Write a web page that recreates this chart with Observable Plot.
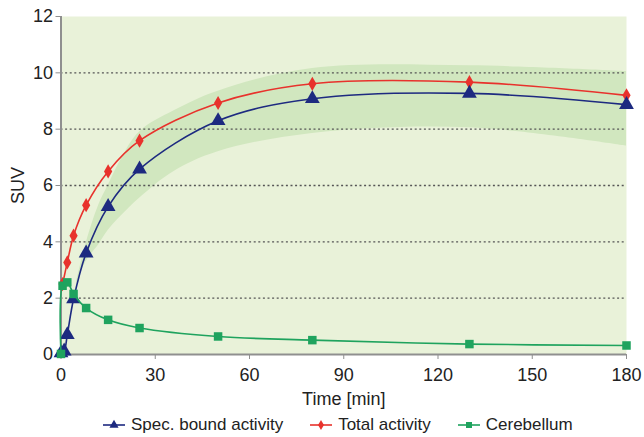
<!DOCTYPE html>
<html>
<head>
<meta charset="utf-8">
<script src="https://cdn.jsdelivr.net/npm/d3@7"></script>
<script src="https://cdn.jsdelivr.net/npm/@observablehq/plot@0.6"></script>
<style>
  body { margin: 0; background: #fff; font-family: "Liberation Sans", Arial, sans-serif; }
  #chart svg { display: block; }
  #legend { display: flex; justify-content: flex-start; align-items: center; height: 30px; font-size: 17px; color: #222; padding-left: 102px; }
  .item { display: flex; align-items: center; margin-right: 26px; }
  .item svg { margin-right: 5px; }
</style>
</head>
<body>
<div id="chart"></div>
<div id="legend"></div>
<script>
// --- data ---
const timeSpec  = [0, 1, 2, 4, 8, 15, 25, 50, 80, 130, 180];
const specBound = [0.05, 0.12, 0.7, 1.97, 3.6, 5.25, 6.58, 8.3, 9.08, 9.27, 8.87];

const timeTotal = [0.5, 2, 4, 8, 15, 25, 50, 80, 130, 180];
const total     = [2.5, 3.27, 4.22, 5.3, 6.5, 7.59, 8.93, 9.61, 9.67, 9.2];

const timeCereb = [0, 0.5, 2, 4, 8, 15, 25, 50, 80, 130, 180];
const cereb     = [0.02, 2.44, 2.56, 2.15, 1.65, 1.23, 0.94, 0.64, 0.51, 0.37, 0.32];

const bandTime  = [5, 8, 12, 15, 19, 25, 36, 50, 80, 130, 180];
const bandUpper = [2.6, 3.95, 5.3, 6.0, 6.9, 7.9, 8.65, 9.35, 10.15, 10.25, 10.05];
const bandLower = [2.5, 3.3, 3.9, 4.4, 4.9, 5.55, 6.5, 7.2, 7.85, 8.05, 7.4];

const xTicks = [0, 30, 60, 90, 120, 150, 180];
const yTicks = [0, 2, 4, 6, 8, 10, 12];
const gridLevels = [2, 4, 6, 8, 10];

const seriesNames = ["Spec. bound activity", "Total activity", "Cerebellum"];
const seriesColors = ["#1d2a80", "#e8322c", "#1fa35e"];
const seriesSymbols = ["triangle", "diamond", "square"];

// --- tables built from arrays ---
const spec = timeSpec.map((t, i) => ({t, v: specBound[i]}));
const tot = timeTotal.map((t, i) => ({t, v: total[i]}));
const cer = timeCereb.map((t, i) => ({t, v: cereb[i]}));
const band = bandTime.map((t, i) => ({t, lo: bandLower[i], hi: bandUpper[i]}));

const font = "'Liberation Sans', Arial, sans-serif";

const chart = Plot.plot({
  width: 644,
  height: 410,
  marginLeft: 60.5,
  marginRight: 18,
  marginTop: 16,
  marginBottom: 56,
  style: {fontFamily: font, fontSize: "17px", color: "#222", background: "#fff"},
  x: {domain: [0, 180]},
  y: {domain: [0, 12]},
  marks: [
    Plot.frame({fill: "#e9f2d9", stroke: "none"}),
    Plot.areaY(band, {x: "t", y1: "lo", y2: "hi", fill: "#d1e7bf", curve: "catmull-rom"}),
    Plot.ruleY(gridLevels, {stroke: "#555", strokeWidth: 1.3, strokeDasharray: "2,2.6"}),
    Plot.ruleX([0], {stroke: "#8f8f8f", strokeWidth: 2}),
    Plot.ruleY([0], {stroke: "#8f8f8f", strokeWidth: 2}),
    Plot.axisY({ticks: yTicks, tickSize: 5, tickPadding: 3, stroke: "#8f8f8f", fontSize: 18, label: "SUV", labelAnchor: "center", labelOffset: 50, labelArrow: "none"}),
    Plot.axisX({ticks: xTicks, tickSize: 5, tickPadding: 9, stroke: "#8f8f8f", fontSize: 18, label: "Time [min]", labelAnchor: "center", labelOffset: 50, labelArrow: "none"}),
    Plot.line(tot, {x: "t", y: "v", stroke: seriesColors[1], strokeWidth: 1.6, curve: "catmull-rom"}),
    Plot.dot(tot, {x: "t", y: "v", fill: seriesColors[1], symbol: seriesSymbols[1], r: 4.3}),
    Plot.line(spec, {x: "t", y: "v", stroke: seriesColors[0], strokeWidth: 1.6, curve: "catmull-rom"}),
    Plot.dot(spec, {x: "t", y: "v", fill: seriesColors[0], symbol: seriesSymbols[0], r: 5.5}),
    Plot.line(cer, {x: "t", y: "v", stroke: seriesColors[2], strokeWidth: 1.6, curve: "catmull-rom"}),
    Plot.dot(cer, {x: "t", y: "v", fill: seriesColors[2], symbol: seriesSymbols[2], r: 4.8})
  ]
});
document.getElementById("chart").appendChild(chart);

// legend
const legend = d3.select("#legend");
seriesNames.forEach((name, i) => {
  const item = legend.append("div").attr("class", "item");
  const s = item.append("svg").attr("width", 24).attr("height", 14);
  s.append("line").attr("x1", 1).attr("x2", 23).attr("y1", 7).attr("y2", 7)
    .attr("stroke", seriesColors[i]).attr("stroke-width", 1.6);
  s.append("path").attr("transform", "translate(12,7)")
    .attr("d", d3.symbol(i === 0 ? d3.symbolTriangle : i === 1 ? d3.symbolDiamond : d3.symbolSquare, i === 1 ? 30 : 36)())
    .attr("fill", seriesColors[i]);
  item.append("span").text(name);
});
</script>
</body>
</html>
